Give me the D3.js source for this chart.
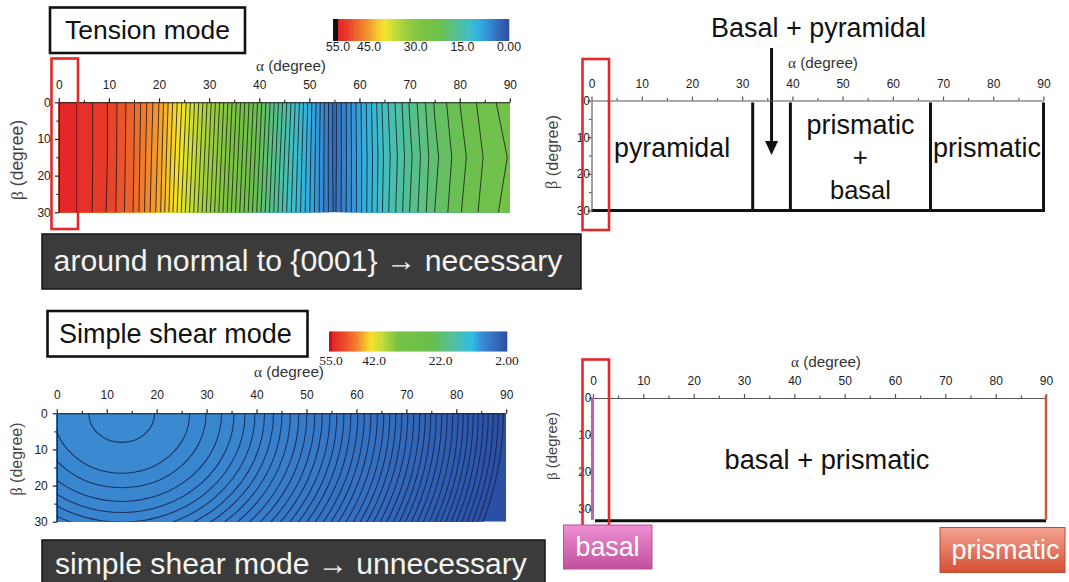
<!DOCTYPE html>
<html><head><meta charset="utf-8">
<script src="https://cdn.jsdelivr.net/npm/d3@7"></script>
<style>
body{margin:0;background:#fff}
svg{display:block}
</style>
</head><body>
<svg id="c" width="1069" height="582"></svg>
<script>
// ---------------- DATA ----------------
const alphaTicks = [0, 10, 20, 30, 40, 50, 60, 70, 80, 90];
const alphaMinorTicks = [5, 15, 25, 35, 45, 55, 65, 75, 85];
const betaTicks = [0, 10, 20, 30];
const betaMinorTicks = [5, 15, 25];

const tensionGridAlpha = [0, 5, 10, 15, 20, 25, 30, 35, 40, 45, 50, 55, 60, 65, 70, 75, 80, 85, 90];
const tensionGridBeta = [0, 15, 30];
const tensionBeta0  = [55, 53.6, 51.9, 49.1, 45.0, 39.5, 33.5, 27.5, 21.6, 15.6, 9.6, 3.6, 8.7, 13.5, 17.1, 20.1, 22.0, 23.5, 24.6];
const tensionBeta15 = [55, 53.6, 51.9, 49.0, 44.7, 38.9, 32.9, 26.9, 21.0, 15.0, 9.3, 3.6, 8.6, 13.2, 16.7, 19.7, 21.6, 23.1, 24.1];
const tensionBeta30 = [55, 53.6, 51.8, 48.9, 44.4, 38.3, 32.3, 26.3, 20.4, 14.5, 9.1, 3.7, 8.6, 13.4, 17.0, 20.0, 21.9, 23.4, 24.5];
const tensionLevelMin = 4, tensionLevelMax = 54, tensionLevelStep = 1;
const tensionColorbarTicks = [55, 45, 30, 15, 0];
const tensionColorbarLabels = ["55.0", "45.0", "30.0", "15.0", "0.00"];

// Simple shear contour rings: alpha where each ring meets beta = 0
const shearCenterAlpha = 13;
const shearRingAspect = 1.22;
const shearRingAlpha = [19.6, 26.6, 29.9, 33.0, 35.5, 37.7, 39.7, 41.6, 43.4, 45.1, 46.8, 48.5, 50.1, 51.7,
  53.2, 54.7, 56.1, 57.5, 58.9, 60.3, 61.6, 62.9, 64.2, 65.5, 66.7, 67.9, 69.1, 70.3, 71.5, 72.7, 73.8,
  74.9, 76.0, 77.1, 78.2, 79.3, 80.4, 81.4, 82.4, 83.4, 84.4, 85.4, 86.4, 87.4, 88.4, 89.4];
const shearLevelTop = 9.4, shearLevelStep = 0.16;
const shearColorbarTicks = [55, 42, 22, 2];
const shearColorbarLabels = ["55.0", "42.0", "22.0", "2.00"];

// Tension mode active slip systems: region boundaries (alpha) and labels
const tensionBoundaries = [32.1, 39.6, 67.5, 90];
const tensionRegions = [
  {from: 0, to: 32.1, lines: ["pyramidal"]},
  {from: 39.6, to: 67.5, lines: ["prismatic", "+", "basal"]},
  {from: 67.5, to: 90, lines: ["prismatic"]}
];

// ---------------- PALETTES ----------------
const tensionPalette = [[55,'#e3242a'],[52,'#e83d2a'],[49,'#ee682c'],[45,'#f39a30'],[42,'#f8cc2e'],[40,'#f2e52c'],
  [37,'#c8dc3c'],[33,'#9ccd40'],[28,'#7cc242'],[22,'#6cc04e'],[19,'#5ec078'],[16,'#50c09c'],[13,'#42bec4'],
  [10,'#32b2e0'],[7,'#3592d8'],[4,'#3570c0'],[0,'#2b4fa3']];
const shearPalette = [[55,'#e3202a'],[51,'#ec4a2a'],[47,'#f2862e'],[43,'#f8e02c'],[39.5,'#c2da3c'],[35,'#78c244'],
  [25,'#68be4a'],[18,'#52c0a0'],[12.5,'#2ebde6'],[9.5,'#3a8ad2'],[6,'#3470c0'],[2,'#2a4ea2']];

// ---------------- SETUP ----------------
const FONT = '"Liberation Sans", Arial, Helvetica, sans-serif';
const SERIF = '"Liberation Serif", "Times New Roman", serif';
const svg = d3.select('#c');
const defs = svg.append('defs');

function fitText(sel, w) {
  const cur = sel.node().getComputedTextLength();
  if (cur > 0) sel.attr('font-size', parseFloat(sel.attr('font-size')) * w / cur);
  return sel;
}
function paletteScale(p) {
  return d3.scaleLinear().domain(p.map(d => d[0])).range(p.map(d => d[1])).interpolate(d3.interpolateRgb).clamp(true);
}
const tensionColor = paletteScale(tensionPalette);
const shearColor = paletteScale(shearPalette);

const xTL = d3.scaleLinear().domain([0, 90]).range([58.8, 509.8]);
const yTL = d3.scaleLinear().domain([0, 30]).range([102.3, 212.3]);
const xTR = d3.scaleLinear().domain([0, 90]).range([591.5, 1043.5]);
const yTR = d3.scaleLinear().domain([0, 30]).range([100.5, 210.5]);
const xBL = d3.scaleLinear().domain([0, 90]).range([56.8, 506.2]);
const yBL = d3.scaleLinear().domain([0, 30]).range([413.3, 521.7]);
const xBR = d3.scaleLinear().domain([0, 90]).range([593, 1046]);
const yBR = d3.scaleLinear().domain([0, 30]).range([398, 509]);

function drawAxes(x, y, o) {
  const gx = svg.append('g').attr('transform', `translate(0,${y(0)})`)
    .call(d3.axisTop(x).tickValues(alphaTicks).tickSize(4).tickSizeOuter(0).tickPadding(o.xPad));
  gx.selectAll('text').attr('font-size', 12).attr('font-family', FONT).attr('fill', '#222');
  gx.select('.domain').attr('stroke', o.color).attr('stroke-width', 1.1);
  gx.selectAll('.tick line').attr('stroke', o.color).attr('stroke-width', 1.2);
  const gxm = svg.append('g').attr('transform', `translate(0,${y(0)})`)
    .call(d3.axisTop(x).tickValues(alphaMinorTicks).tickSize(2.5).tickSizeOuter(0).tickFormat(''));
  gxm.select('.domain').remove();
  gxm.selectAll('.tick line').attr('stroke', o.color).attr('stroke-width', 1.1);

  const gy = svg.append('g').attr('transform', `translate(${x(0)},0)`)
    .call(d3.axisLeft(y).tickValues(betaTicks).tickSize(4).tickSizeOuter(0).tickPadding(o.yPad));
  gy.selectAll('text').attr('font-size', 12).attr('font-family', FONT).attr('fill', '#222');
  gy.select('.domain').attr('stroke', o.color).attr('stroke-width', 1.1);
  gy.selectAll('.tick line').attr('stroke', o.color).attr('stroke-width', 1.2);
  const gym = svg.append('g').attr('transform', `translate(${x(0)},0)`)
    .call(d3.axisLeft(y).tickValues(betaMinorTicks).tickSize(2.5).tickSizeOuter(0).tickFormat(''));
  gym.select('.domain').remove();
  gym.selectAll('.tick line').attr('stroke', o.color).attr('stroke-width', 1.1);

  const at = svg.append('text').attr('x', o.aX).attr('y', o.aY).attr('text-anchor', 'middle')
    .attr('font-family', FONT).attr('font-size', 14).attr('fill', '#333');
  at.append('tspan').attr('font-family', SERIF).text('α');
  at.append('tspan').text(' (degree)');
  fitText(at, 70);
  const bt = svg.append('text').attr('transform', `translate(${o.bX},${o.bY}) rotate(-90)`)
    .attr('text-anchor', 'middle').attr('dominant-baseline', 'central')
    .attr('font-family', FONT).attr('font-size', 14).attr('fill', '#444');
  bt.append('tspan').attr('font-family', SERIF).text('β');
  bt.append('tspan').text(' (degree)');
  fitText(bt, o.bW);
}

function clipRect(id, x, y) {
  defs.append('clipPath').attr('id', id).append('rect')
    .attr('x', x(0)).attr('y', y(0)).attr('width', x(90) - x(0)).attr('height', y(30) - y(0));
}

function colorbar(x0, x1, y0, y1, scale, color, ticks, labels, font, fs, labelY) {
  const g = svg.append('g');
  const px = d3.range(Math.floor(x0), Math.ceil(x1));
  g.selectAll('rect').data(px).join('rect')
    .attr('x', d => d).attr('y', y0).attr('width', 1.3).attr('height', y1 - y0)
    .attr('fill', d => color(scale.invert(d + 0.5)));
  g.selectAll('text').data(ticks).join('text')
    .attr('x', d => scale(d)).attr('y', labelY).attr('text-anchor', 'middle')
    .attr('font-family', font).attr('font-size', fs).attr('fill', '#222')
    .text((d, i) => labels[i]);
  return g;
}

function titleBox(x, y, w, h, tx, ty, txt, tw) {
  svg.append('rect').attr('x', x).attr('y', y).attr('width', w).attr('height', h)
    .attr('fill', '#fff').attr('stroke', '#111').attr('stroke-width', 2.6);
  const t = svg.append('text').attr('x', tx).attr('y', ty).attr('font-family', FONT)
    .attr('font-size', 26).attr('fill', '#111').text(txt);
  fitText(t, tw);
}

function banner(x, y, w, h, tx, ty, txt, tw) {
  svg.append('rect').attr('x', x).attr('y', y).attr('width', w).attr('height', h)
    .attr('fill', '#3b3b3b').attr('stroke', '#151515').attr('stroke-width', 1.5);
  const t = svg.append('text').attr('x', tx).attr('y', ty).attr('font-family', FONT)
    .attr('font-size', 30).attr('fill', '#f4f4f4').text(txt);
  fitText(t, tw);
}

function redBox(x0, x1, y0, y1) {
  svg.append('rect').attr('x', x0).attr('y', y0).attr('width', x1 - x0).attr('height', y1 - y0)
    .attr('fill', 'none').attr('stroke', '#e5262b').attr('stroke-width', 2.6);
}

// ---------------- TOP LEFT: tension contour ----------------
titleBox(50, 7.5, 195, 45.5, 65, 39, 'Tension mode', 165);
{
  const tScale = d3.scaleLinear().domain([55, 0]).range([338, 509]);
  svg.append('rect').attr('x', 333).attr('y', 19).attr('width', 5).attr('height', 22).attr('fill', '#111');
  colorbar(338, 509, 19, 41, tScale, tensionColor, tensionColorbarTicks, tensionColorbarLabels, FONT, 12.3, 51);
}
clipRect('clipTL', xTL, yTL);
{
  const n = tensionGridAlpha.length, m = tensionGridBeta.length;
  const aStep = tensionGridAlpha[1] - tensionGridAlpha[0];
  const bStep = tensionGridBeta[1] - tensionGridBeta[0];
  const grid = [...tensionBeta0, ...tensionBeta15, ...tensionBeta30];
  const thresholds = d3.range(tensionLevelMin, tensionLevelMax + tensionLevelStep / 2, tensionLevelStep);
  const contours = d3.contours().size([n, m]).thresholds(thresholds)(grid);
  const proj = d3.geoTransform({point(px, py) {
    this.stream.point(xTL(tensionGridAlpha[0] + (px - 0.5) * aStep), yTL(tensionGridBeta[0] + (py - 0.5) * bStep));
  }});
  const path = d3.geoPath(proj);
  const g = svg.append('g').attr('clip-path', 'url(#clipTL)');
  g.append('rect').attr('x', xTL(0)).attr('y', yTL(0)).attr('width', xTL(90) - xTL(0)).attr('height', yTL(30) - yTL(0))
    .attr('fill', tensionColor(tensionLevelMin - tensionLevelStep / 2));
  g.selectAll('path.band').data(contours).join('path').attr('class', 'band')
    .attr('d', path).attr('fill', d => tensionColor(d.value + tensionLevelStep / 2));
  g.selectAll('path.line').data(contours).join('path').attr('class', 'line')
    .attr('d', path).attr('fill', 'none').attr('stroke', '#1a1a1a').attr('stroke-width', 0.95).attr('stroke-opacity', 0.85);
}
drawAxes(xTL, yTL, {color: '#222', xPad: 9, yPad: 4, aX: 291, aY: 70.5, bX: 17, bY: 160, bW: 80});
redBox(51.5, 78, 58.5, 229);
banner(42, 234, 539, 55, 53.6, 270.5, 'around normal to {0001} → necessary', 509);

// ---------------- TOP RIGHT: tension slip systems ----------------
{
  const g = svg.append('g');
  g.selectAll('line.b').data(tensionBoundaries).join('line').attr('class', 'b')
    .attr('x1', d => xTR(d)).attr('x2', d => xTR(d)).attr('y1', yTR(0) + 2).attr('y2', yTR(30))
    .attr('stroke', '#111').attr('stroke-width', 3);
  g.append('line').attr('x1', xTR(0)).attr('x2', xTR(90) + 1.5).attr('y1', yTR(30)).attr('y2', yTR(30))
    .attr('stroke', '#111').attr('stroke-width', 3);
  const lineH = 32.5;
  tensionRegions.forEach(r => {
    const cx = xTR((r.from + r.to) / 2);
    const startY = r.lines.length === 1 ? 157 : 133.5;
    r.lines.forEach((txt, i) => {
      const t = g.append('text').attr('x', cx).attr('y', startY + i * lineH).attr('text-anchor', 'middle')
        .attr('font-family', FONT).attr('font-size', 26).attr('fill', '#111').text(txt);
      if (txt === 'pyramidal') fitText(t, 116);
      else if (txt === 'prismatic') fitText(t, 108);
      else if (txt === 'basal') fitText(t, 61);
    });
  });
  // arrow: Basal + pyramidal
  const ax = xTR((tensionBoundaries[0] + tensionBoundaries[1]) / 2);
  const lbl = g.append('text').attr('x', ax + 47).attr('y', 36.5).attr('text-anchor', 'middle')
    .attr('font-family', FONT).attr('font-size', 26).attr('fill', '#111').text('Basal + pyramidal');
  fitText(lbl, 215);
  g.append('line').attr('x1', ax).attr('x2', ax).attr('y1', 48).attr('y2', 146)
    .attr('stroke', '#111').attr('stroke-width', 3);
  g.append('path').attr('d', `M${ax - 6.5},${141} L${ax},${155} L${ax + 6.5},${141} Z`).attr('fill', '#111');
}
drawAxes(xTR, yTR, {color: '#555', xPad: 9, yPad: -2.5, aX: 823, aY: 68, bX: 552, bY: 152, bW: 74});
redBox(582.5, 609, 59, 230);

// ---------------- BOTTOM LEFT: simple shear contour ----------------
titleBox(47.5, 311, 260, 45.5, 59, 342.5, 'Simple shear mode', 233);
{
  const sScale = d3.scaleLinear().domain([55, 2]).range([331, 507]);
  colorbar(331, 507, 331.5, 351.5, sScale, shearColor, shearColorbarTicks, shearColorbarLabels, SERIF, 13.5, 365);
  svg.append('rect').attr('x', 329).attr('y', 331.5).attr('width', 3).attr('height', 20).attr('fill', '#c0141e');
}
clipRect('clipBL', xBL, yBL);
{
  const g = svg.append('g').attr('clip-path', 'url(#clipBL)');
  const K = shearRingAlpha.length;
  const level = i => shearLevelTop - i * shearLevelStep;
  g.append('rect').attr('x', xBL(0)).attr('y', yBL(0)).attr('width', xBL(90) - xBL(0)).attr('height', yBL(30) - yBL(0))
    .attr('fill', shearColor(level(K - 1) - shearLevelStep / 2));
  const rings = shearRingAlpha.map((a, i) => ({a, i})).reverse();
  g.selectAll('ellipse').data(rings).join('ellipse')
    .attr('cx', xBL(shearCenterAlpha)).attr('cy', yBL(0))
    .attr('rx', d => xBL(d.a) - xBL(shearCenterAlpha))
    .attr('ry', d => yBL(shearRingAspect * (d.a - shearCenterAlpha)) - yBL(0))
    .attr('fill', d => shearColor(level(d.i) + shearLevelStep / 2))
    .attr('stroke', '#16204a').attr('stroke-width', 1.05).attr('stroke-opacity', 0.85);
}
drawAxes(xBL, yBL, {color: '#222', xPad: 10, yPad: 5, aX: 289, aY: 376.5, bX: 15.5, bY: 459, bW: 73});
banner(42, 540, 503, 50, 55, 574, 'simple shear mode → unnecessary', 472);

// ---------------- BOTTOM RIGHT: simple shear slip systems ----------------
drawAxes(xBR, yBR, {color: '#555', xPad: 9.5, yPad: -2.5, aX: 826, aY: 366.5, bX: 552, bY: 446, bW: 68});
{
  const g = svg.append('g');
  const yb = yBR(33.2);
  g.append('line').attr('x1', xBR(0) + 2).attr('x2', xBR(90)).attr('y1', yb).attr('y2', yb)
    .attr('stroke', '#111').attr('stroke-width', 3);
  g.append('line').attr('x1', xBR(0) - 0.5).attr('x2', xBR(0) - 0.5).attr('y1', yBR(0) - 1).attr('y2', yb - 1)
    .attr('stroke', '#b865b8').attr('stroke-width', 3);
  g.append('line').attr('x1', xBR(90)).attr('x2', xBR(90)).attr('y1', yBR(0) - 3).attr('y2', yb - 1)
    .attr('stroke', '#c9583e').attr('stroke-width', 2.5);
  const t = g.append('text').attr('x', xBR(46.5)).attr('y', 468.5).attr('text-anchor', 'middle')
    .attr('font-family', FONT).attr('font-size', 27).attr('fill', '#111').text('basal + prismatic');
  fitText(t, 205);
}
redBox(582.5, 609, 359.5, 528);
{
  const gp = defs.append('linearGradient').attr('id', 'gPink').attr('x1', 0).attr('y1', 0).attr('x2', 0).attr('y2', 1);
  gp.append('stop').attr('offset', 0).attr('stop-color', '#ee8fd2');
  gp.append('stop').attr('offset', 1).attr('stop-color', '#c2509c');
  const go = defs.append('linearGradient').attr('id', 'gOrange').attr('x1', 0).attr('y1', 0).attr('x2', 0).attr('y2', 1);
  go.append('stop').attr('offset', 0).attr('stop-color', '#f4a292');
  go.append('stop').attr('offset', 1).attr('stop-color', '#d44f34');
  svg.append('rect').attr('x', 563.5).attr('y', 525).attr('width', 88.5).attr('height', 44)
    .attr('fill', 'url(#gPink)').attr('stroke', '#b65196').attr('stroke-width', 1);
  const tb = svg.append('text').attr('x', 607.5).attr('y', 556).attr('text-anchor', 'middle')
    .attr('font-family', FONT).attr('font-size', 27).attr('fill', '#fff').text('basal');
  fitText(tb, 64);
  svg.append('rect').attr('x', 940).attr('y', 527.5).attr('width', 125).attr('height', 45)
    .attr('fill', 'url(#gOrange)').attr('stroke', '#c4492f').attr('stroke-width', 1);
  const tp = svg.append('text').attr('x', 1005.5).attr('y', 559).attr('text-anchor', 'middle')
    .attr('font-family', FONT).attr('font-size', 27).attr('fill', '#fff').text('prismatic');
  fitText(tp, 108);
}
</script>
</body></html>
